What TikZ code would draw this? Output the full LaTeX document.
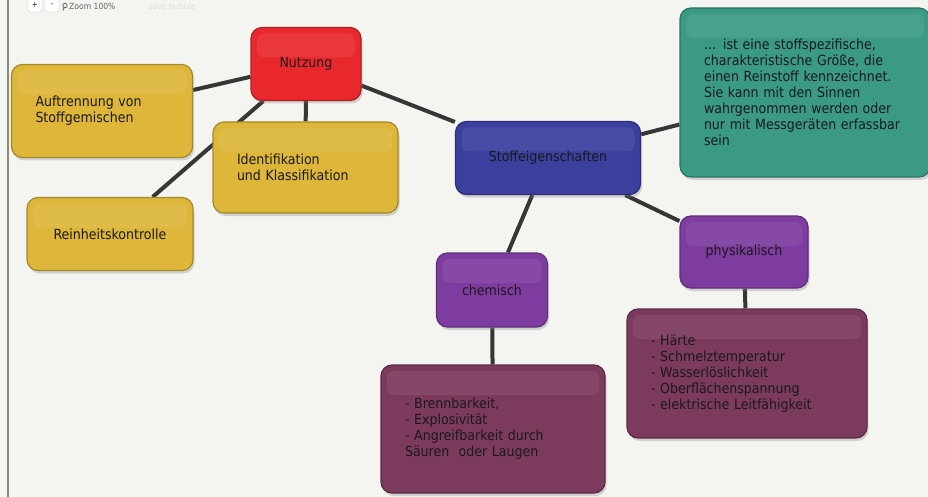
\documentclass[tikz,border=0pt]{standalone}
\usepackage{fontspec}
\setmainfont{DejaVu Sans Condensed}
\usetikzlibrary{shadows,backgrounds}

\definecolor{paper}{HTML}{F4F4F1}
\definecolor{frame}{HTML}{8B8B78}
\definecolor{linkgray}{HTML}{363636}
\definecolor{inktext}{HTML}{1A1A1A}
\definecolor{nutzred}{HTML}{E8282D}
\definecolor{gold}{HTML}{DDB63A}
\definecolor{stoffblue}{HTML}{3B3F9E}
\definecolor{teal}{HTML}{3A9A84}
\definecolor{lilac}{HTML}{7E3CA0}
\definecolor{maroon}{HTML}{7C3A5C}

\begin{document}
\begin{tikzpicture}[x=1pt,y=-1pt, every node/.style={font=\fontsize{14}{16}\selectfont, text=inktext}]

\tikzset{bubble/.style={draw=#1!75!black, line width=1.2pt, fill=#1, rounded corners=11pt, align=left,
  drop shadow={shadow xshift=1.5pt, shadow yshift=-3pt, opacity=0.3},
  %light band in the upper part
  path picture={\fill[white,opacity=0.07,rounded corners=7pt]
    ([xshift=6pt,yshift=-6pt]path picture bounding box.north west) rectangle
    ([xshift=-6pt,yshift=-30pt]path picture bounding box.north east);}},
listbox/.style={inner xsep=24pt, text width=#1},
link/.style={draw=linkgray, line width=4pt},
btn/.style={draw=gray!45, fill=white, rounded corners=2pt, minimum width=14, minimum height=14, inner sep=0pt, font=\fontsize{8}{8}\selectfont}}

\begin{scope}[on background layer]
\fill[paper] (0,0) rectangle (928,497);
\end{scope}
\useasboundingbox (0,0) rectangle (928,497);

\draw [frame,line width=2pt] (8,0) -- (8,497);

% toolbar
\node[btn] (plus) at (35,5) {+};
\node[btn] (minus) at (52,5) {-};
\draw [gray!80!black,line width=0.8pt] (65,5.5) circle (2.2) (64,7.5) -- (63,10.5);
\node[anchor=west,inner sep=0pt,text=gray!80!black,font=\fontsize{8.5}{9}\selectfont] (zoom) at (69,6.5) {Zoom 100\%};
\node[inner sep=0pt,text=gray!25,font=\fontsize{8.5}{9}\selectfont] (save) at (172,6.5) {save bubble};

% bubbles
\node[bubble=nutzred, minimum width=110, minimum height=73] (nutzung) at (306,64) {Nutzung};
\node[bubble=gold, listbox=133, minimum width=181, minimum height=93] (auftrennung) at (102,111) {Auftrennung von\\Stoffgemischen};
\node[bubble=gold, minimum width=166, minimum height=73] (reinheit) at (110,234) {Reinheitskontrolle};
\node[bubble=gold, listbox=137, minimum width=185, minimum height=91] (ident) at (305.5,167.5) {Identifikation\\und Klassifikation};
\node[bubble=stoffblue, minimum width=185, minimum height=73] (stoff) at (548,158) {Stoffeigenschaften};
\node[bubble=teal, listbox=202, minimum width=250, minimum height=169] (def) at (805,92.5) {... ist eine stoffspezifische,\\charakteristische Größe, die\\einen Reinstoff kennzeichnet.\\Sie kann mit den Sinnen\\wahrgenommen werden oder\\nur mit Messgeräten erfassbar\\sein};
\node[bubble=lilac, minimum width=111, minimum height=74] (chem) at (492,290) {chemisch};
\node[bubble=lilac, minimum width=128, minimum height=72] (phys) at (744,252) {physikalisch};
\node[bubble=maroon, listbox=176, minimum width=224, minimum height=128] (chemlist) at (493,429) {- Brennbarkeit,\\- Explosivität\\- Angreifbarkeit durch\\Säuren~ oder Laugen};
\node[bubble=maroon, listbox=192, minimum width=240, minimum height=129] (physlist) at (747,373.5) {- Härte\\- Schmelztemperatur\\- Wasserlöslichkeit\\- Oberflächenspannung\\- elektrische Leitfähigkeit};

\begin{scope}[on background layer]
\draw [link] (nutzung) -- (auftrennung);
\draw [link] (nutzung) -- (ident);
\draw [link] (nutzung) -- (reinheit);
\draw [link] (nutzung) -- (stoff);
\draw [link] (stoff) -- (def);
\draw [link] (stoff) -- (chem);
\draw [link] (stoff) -- (phys);
\draw [link] (chem) -- (chemlist);
\draw [link] (phys) -- (physlist);
\end{scope}

\end{tikzpicture}
\end{document}
